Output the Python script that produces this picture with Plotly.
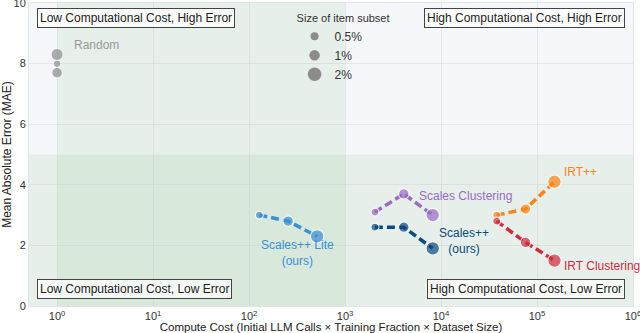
import math
import plotly.graph_objects as go

# data
subset_sizes = ["0.5%", "1%", "2%"]
marker_px = [8, 10.5, 13.5]

random_x = [1, 1, 1]
random_y = [8.0, 7.7, 8.3]

lite_x = [128, 256, 512]
lite_y = [3.0, 2.8, 2.3]

scalespp_x = [2048, 4096, 8192]
scalespp_y = [2.6, 2.6, 1.9]

scales_clu_x = [2048, 4096, 8192]
scales_clu_y = [3.1, 3.7, 3.0]

irtpp_x = [38000, 76000, 152000]
irtpp_y = [3.0, 3.2, 4.1]

irt_clu_x = [38000, 76000, 152000]
irt_clu_y = [2.8, 2.1, 1.5]

tick_exps = [0, 1, 2, 3, 4, 5, 6]

FONT = "Liberation Sans, Arial, sans-serif"
GREEN = "rgba(80,170,80,0.09)"

fig = go.Figure()

# shaded regions: cheap (x<1e3) and accurate (y<5)
fig.add_shape(type="rect", xref="x", yref="y", x0=1, x1=1000, y0=0, y1=10,
              fillcolor=GREEN, line_width=0, layer="below")
fig.add_shape(type="rect", xref="x domain", yref="y", x0=0, x1=1, y0=0, y1=5,
              fillcolor=GREEN, line_width=0, layer="below")

series = [
    ("Scales++ Lite", lite_x, lite_y, "#3a8fd8"),
    ("Scales++", scalespp_x, scalespp_y, "#0b4b84"),
    ("Scales Clustering", scales_clu_x, scales_clu_y, "#9a6cc4"),
    ("IRT++", irtpp_x, irtpp_y, "#ff8316"),
    ("IRT Clustering", irt_clu_x, irt_clu_y, "#d32a40"),
]

for name, xs, ys, col in series:
    fig.add_trace(go.Scatter(
        x=xs, y=ys, mode="lines+markers", name=name, showlegend=False,
        line=dict(color=col, width=3.5, dash="8px,4px"),
        marker=dict(size=marker_px, color=col, line=dict(color="white", width=1.2)),
    ))

fig.add_trace(go.Scatter(
    x=random_x, y=random_y, mode="markers", name="Random", showlegend=False,
    marker=dict(size=[7.5, 10.5, 12], color="#8c8c8c", line=dict(color="white", width=1)),
))

# size legend
for lab, s in zip(subset_sizes, marker_px):
    fig.add_trace(go.Scatter(
        x=[None], y=[None], mode="markers", name=lab,
        marker=dict(size=s, color="#8c8c8c"),
    ))

# series labels
labels = [
    ("Scales++ Lite<br>(ours)", 10 ** 2.5, 1.75, "center", "#3a8fd8"),
    ("Scales++<br>(ours)", 10 ** 4.24, 2.15, "center", "#0b4b84"),
    ("Scales Clustering", 10 ** 3.75, 3.63, "left", "#9a6cc4"),
    ("IRT++", 10 ** 5.26, 4.42, "left", "#ff8316"),
    ("IRT Clustering", 10 ** 5.26, 1.32, "left", "#d32a40"),
    ("Random", 10 ** 0.16, 8.6, "left", "#9a9a9a"),
]
for txt, x, y, anc, col in labels:
    fig.add_annotation(x=math.log10(x), y=y, text=txt, showarrow=False,
                       xanchor=anc, yanchor="middle", align="center",
                       font=dict(size=12, color=col, family=FONT))

# quadrant boxes
quads = [
    ("Low Computational Cost, High Error", 0.013, 0.982, "left", "top"),
    ("High Computational Cost, High Error", 0.987, 0.982, "right", "top"),
    ("Low Computational Cost, Low Error", 0.013, 0.022, "left", "bottom"),
    ("High Computational Cost, Low Error", 0.987, 0.022, "right", "bottom"),
]
for txt, x, y, xa, ya in quads:
    fig.add_annotation(x=x, y=y, xref="paper", yref="paper", text=txt,
                       showarrow=False, xanchor=xa, yanchor=ya,
                       bgcolor="rgba(255,255,255,0.75)", bordercolor="#444",
                       borderwidth=1, borderpad=2,
                       font=dict(size=12, color="#222", family=FONT))

fig.update_xaxes(
    type="log", range=[math.log10(0.51), 6],
    tickvals=[10 ** e for e in tick_exps],
    ticktext=[f"10<sup>{e}</sup>" for e in tick_exps],
    showgrid=True, gridcolor="rgba(200,200,200,0.35)", zeroline=False,
    showline=True, linecolor="#e2e4e8", mirror=True,
    tickfont=dict(size=11, color="#333", family=FONT),
    ticklabeloverflow="allow",
    title=dict(text="Compute Cost (Initial LLM Calls × Training Fraction × Dataset Size)",
               font=dict(size=11.5, color="#222", family=FONT), standoff=3),
    automargin=False,
)
fig.update_yaxes(
    range=[0, 10], tickvals=[0, 2, 4, 6, 8, 10],
    showgrid=True, gridcolor="rgba(200,200,200,0.35)", zeroline=False,
    showline=True, linecolor="#e2e4e8", mirror=True,
    tickfont=dict(size=11, color="#333", family=FONT),
    ticklabeloverflow="allow",
    title=dict(text="Mean Absolute Error (MAE)",
               font=dict(size=12, color="#222", family=FONT), standoff=4),
    automargin=False,
)

fig.update_layout(
    width=640, height=333,
    margin=dict(l=29, r=7, t=3, b=27),
    paper_bgcolor="white", plot_bgcolor="#f6f7fa",
    font=dict(family=FONT, size=11, color="#333"),
    legend=dict(
        title=dict(text="Size of item subset", side="top center",
                   font=dict(size=11, color="#333")),
        x=0.52, xanchor="center", y=0.985, yanchor="top",
        bgcolor="rgba(0,0,0,0)", font=dict(size=12, color="#333"),
        itemwidth=30, tracegroupgap=0,
    ),
)

fig.write_html("out.html", config={"displayModeBar": False},
               post_script="document.body.style.margin='0';")
